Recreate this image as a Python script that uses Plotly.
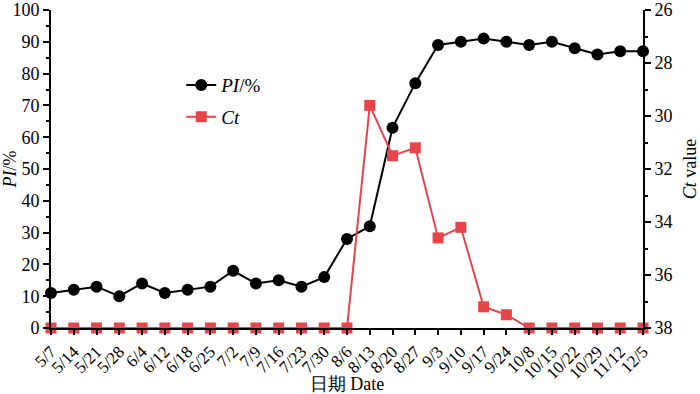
import plotly.graph_objects as go

dates = ["5/7", "5/14", "5/21", "5/28", "6/4", "6/12", "6/18", "6/25", "7/2", "7/9",
         "7/16", "7/23", "7/30", "8/6", "8/13", "8/20", "8/27", "9/3", "9/10", "9/17",
         "9/24", "10/8", "10/15", "10/22", "10/29", "11/12", "12/5"]
pi_values = [11, 12, 13, 10, 14, 11, 12, 13, 18, 14, 15, 13, 16, 28, 32, 63, 77, 89, 90, 91,
             90, 89, 90, 88, 86, 87, 87]
ct_values = [38, 38, 38, 38, 38, 38, 38, 38, 38, 38, 38, 38, 38, 38, 29.6, 31.5, 31.2, 34.6,
             34.2, 37.2, 37.5, 38, 38, 38, 38, 38, 38]

xs = list(range(len(dates)))
RED = "#e8454b"
FONT = "Liberation Serif"

fig = go.Figure()
fig.add_trace(go.Scatter(
    x=xs, y=pi_values, name="<i>PI</i>/%", mode="lines+markers", legend="legend",
    line=dict(color="#000000", width=2),
    marker=dict(symbol="circle", size=12, color="#000000"),
    cliponaxis=False,
))
fig.add_trace(go.Scatter(
    x=xs, y=ct_values, name="<i>Ct</i>", mode="lines+markers", yaxis="y2", legend="legend2",
    line=dict(color=RED, width=2),
    marker=dict(symbol="square", size=11, color=RED),
    cliponaxis=False,
))

leg_common = dict(xanchor="left", yanchor="middle", bgcolor="rgba(0,0,0,0)",
                  font=dict(size=19, family=FONT), itemwidth=30)

fig.update_layout(
    width=700, height=394,
    margin=dict(l=51, r=57, t=10, b=66),
    plot_bgcolor="white", paper_bgcolor="white",
    font=dict(family=FONT, size=18, color="#000000"),
    showlegend=True,
    legend=dict(x=0.22, y=0.764, **leg_common),
    legend2=dict(x=0.22, y=0.664, **leg_common),
    xaxis=dict(
        range=[0, len(dates) - 1], tickmode="array", tickvals=xs, ticktext=dates,
        tickangle=-45, tickfont=dict(size=17), showgrid=False, zeroline=False,
        showline=True, linecolor="#000000", linewidth=2, automargin=False,
        ticks="outside", ticklen=5, tickwidth=2, tickcolor="#000000",
        title=dict(text="日期 Date", font=dict(size=18), standoff=2),
    ),
    yaxis=dict(
        range=[0, 100], dtick=10, showgrid=False, zeroline=False, automargin=False,
        showline=True, linecolor="#000000", linewidth=2,
        ticks="outside", ticklen=6, tickwidth=2, tickcolor="#000000",
        minor=dict(dtick=5, ticks="outside", ticklen=3, tickwidth=2, tickcolor="#000000"),
        title=dict(text="<i>PI</i>/%", font=dict(size=18), standoff=2),
    ),
    yaxis2=dict(
        range=[38, 26], dtick=2, overlaying="y", side="right", showgrid=False, zeroline=False,
        showline=True, linecolor="#000000", linewidth=2, automargin=False,
        ticks="outside", ticklen=6, tickwidth=2, tickcolor="#000000",
        minor=dict(dtick=1, ticks="outside", ticklen=3, tickwidth=2, tickcolor="#000000"),
        title=dict(text="<i>Ct</i> value", font=dict(size=18), standoff=14),
    ),
)

fig.write_html("out.html", config={"displayModeBar": False},
               post_script="document.body.style.margin='0';")
